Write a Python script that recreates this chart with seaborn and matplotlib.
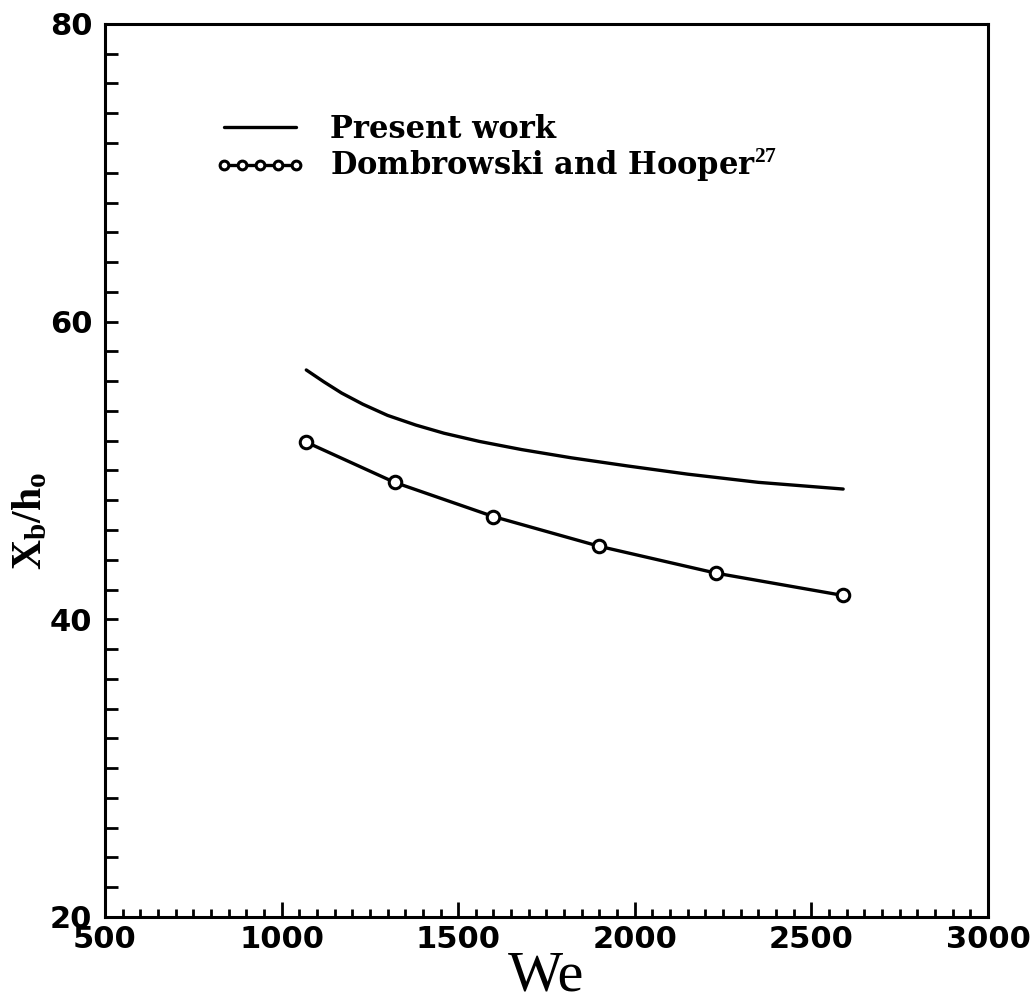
import matplotlib
matplotlib.use("Agg")
import matplotlib.pyplot as plt
import seaborn as sns
from matplotlib.ticker import MultipleLocator, FixedLocator

# Breakup length vs. Weber number
we_present = [1070, 1120, 1170, 1230, 1300, 1380, 1460, 1560, 1680, 1820,
              1980, 2150, 2350, 2590]
xb_present = [56.75, 55.95, 55.2, 54.45, 53.7, 53.05, 52.5, 51.95, 51.4,
              50.85, 50.3, 49.75, 49.2, 48.75]

we_dh = [1070, 1320, 1600, 1900, 2230, 2590]
xb_dh = [51.9, 49.2, 46.9, 44.9, 43.1, 41.6]

x_ticks = [500, 1000, 1500, 2000, 2500, 3000]
y_ticks = [20, 40, 60, 80]

label_present = "Present work"
label_dh = r"Dombrowski and Hooper$^{\mathbf{27}}$"

sns.set_theme(style="ticks")
plt.rcParams.update({
    "font.family": ["DejaVu Sans"],
    "mathtext.fontset": "custom",
    "mathtext.rm": "Liberation Serif",
    "mathtext.bf": "Liberation Serif:bold",
    "axes.linewidth": 2.2,
    "axes.edgecolor": "black",
    "text.color": "black",
    "axes.labelcolor": "black",
    "xtick.color": "black",
    "ytick.color": "black",
})

fig = plt.figure(figsize=(10.34, 10.05), dpi=100)
ax = fig.add_axes([0.1015, 0.0876, 0.8540, 0.8886])

sns.lineplot(x=we_present, y=xb_present, ax=ax, color="black", lw=2.4,
             label=label_present)
sns.lineplot(x=we_dh, y=xb_dh, ax=ax, color="black", lw=2.4, marker="o",
             markersize=9, markerfacecolor="white", markeredgecolor="black",
             markeredgewidth=2.2, label=label_dh)

ax.set_xlim(x_ticks[0], x_ticks[-1])
ax.set_ylim(y_ticks[0], y_ticks[-1])
ax.xaxis.set_major_locator(FixedLocator(x_ticks))
ax.yaxis.set_major_locator(FixedLocator(y_ticks))
ax.xaxis.set_minor_locator(MultipleLocator(50))
ax.yaxis.set_minor_locator(MultipleLocator(2))

ax.tick_params(which="both", direction="in", top=False, right=False,
               width=2.0, colors="black")
ax.tick_params(axis="x", which="major", length=11, pad=6, labelsize=22)
ax.tick_params(axis="x", which="minor", length=6)
ax.tick_params(axis="y", which="major", length=9, pad=9, labelsize=22)
ax.tick_params(axis="y", which="minor", length=9)
for t in ax.get_xticklabels() + ax.get_yticklabels():
    t.set_fontweight("bold")

ax.set_xlabel("We", fontsize=42, family="Liberation Serif")
ax.xaxis.set_label_coords(0.5, -0.038)
ax.set_ylabel(r"$\mathbf{X_{b}/h_{o}}$", fontsize=30)
ax.yaxis.set_label_coords(-0.062, 0.443)

leg = ax.legend(loc="upper left", bbox_to_anchor=(0.1246, 0.899),
                frameon=False, numpoints=5, markerscale=0.7,
                handlelength=2.95, handletextpad=0.8, labelspacing=0.05,
                borderpad=0, borderaxespad=0,
                prop={"family": "DejaVu Serif", "weight": "bold", "size": 22})
for txt in leg.get_texts():
    txt.set_color("black")

fig.savefig("out.png", dpi=100, facecolor="white")
